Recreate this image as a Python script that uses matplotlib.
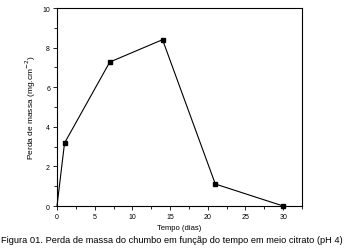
import matplotlib
matplotlib.use("Agg")
import matplotlib.pyplot as plt
from matplotlib.ticker import MultipleLocator

plt.rcParams['font.family'] = ['Liberation Sans', 'DejaVu Sans']

dias = [0, 1, 7, 14, 21, 30]
perda = [0.0, 3.18, 7.27, 8.4, 1.11, 0.0]

fig = plt.figure(figsize=(3.54, 2.51), dpi=100)
ax = fig.add_axes([57/354, 1-207/251, (302-57)/354, (207-9)/251])
ax.plot(dias, perda, color='black', lw=0.8, marker='s', ms=2.2,
        markevery=list(range(1, len(dias))), clip_on=False)
ax.set_xlim(0, 32.5)
ax.set_ylim(0, 10)
ax.xaxis.set_major_locator(MultipleLocator(5))
ax.xaxis.set_minor_locator(MultipleLocator(2.5))
ax.yaxis.set_major_locator(MultipleLocator(2))
ax.yaxis.set_minor_locator(MultipleLocator(1))
ax.tick_params(which='both', direction='out', labelsize=5, width=0.6, top=False, right=False)
ax.tick_params(which='major', length=3, pad=2)
ax.tick_params(which='minor', length=2)
for s in ax.spines.values():
    s.set_linewidth(0.8)
ax.set_xlabel('Tempo (dias)', fontsize=5.5, labelpad=3)
ax.set_ylabel('Perda de massa (mg.cm$^{-2}$)', fontsize=6, labelpad=3)
fig.text(0.003, 1-241/251, 'Figura 01. Perda de massa do chumbo em funçãp do tempo em meio citrato (pH 4)',
         fontsize=6.65, ha='left', va='center')
fig.savefig('out.png', dpi=100)
